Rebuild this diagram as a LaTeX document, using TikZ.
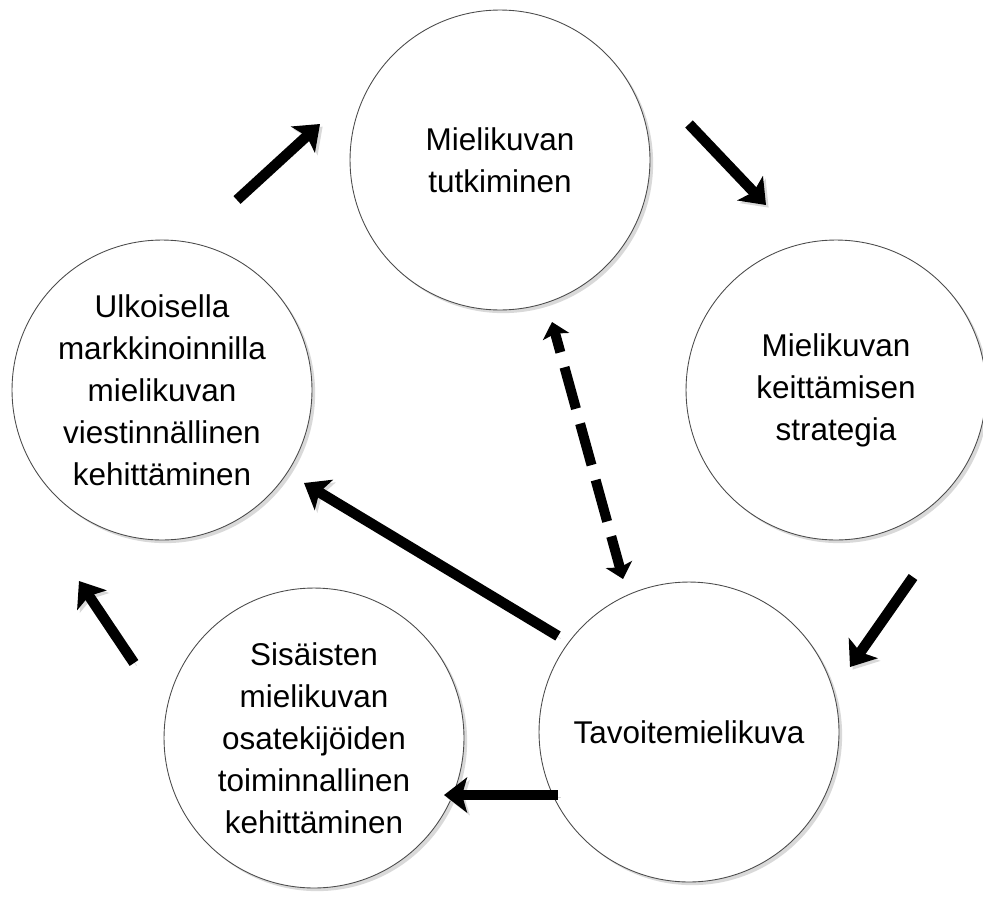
\documentclass[tikz,border=0pt]{standalone}
\usepackage{fontspec}
\setmainfont{Liberation Sans}
\usetikzlibrary{arrows.meta,shadows}

\begin{document}
\begin{tikzpicture}[
  x=0.02cm, y=-0.02cm,
  stage/.style={circle, draw=black!70, line width=0.5pt, minimum size=6cm, inner sep=0pt, align=center,
    fill=white,
    font=\fontsize{17.9pt}{23.9pt}\selectfont,
    drop shadow={shadow xshift=1.8pt, shadow yshift=-1.8pt, fill=black!15, opacity=1}},
  flow/.style={-{Stealth[length=0.46cm, width=0.7cm, inset=0.1cm]}, line width=0.21cm,
    preaction={draw=black!15, transform canvas={shift={(1.5pt,-1.5pt)}}}},
  feedback/.style={{Stealth[length=0.3cm, width=0.54cm, inset=0.06cm]}-{Stealth[length=0.3cm, width=0.54cm, inset=0.06cm]},
    line width=0.2cm, dash pattern=on 0.86cm off 0.31cm, dash phase=0.2cm}
]
  \useasboundingbox (0,0) rectangle (983,899);

  % the five stages
  \node[stage] (research) at (500,160) {Mielikuvan\\tutkiminen};
  \node[stage] (strategy) at (836,390) {Mielikuvan\\keittämisen\\strategia};
  \node[stage] (target) at (689,732) {Tavoitemielikuva};
  \node[stage] (internal) at (314,738) {Sisäisten\\mielikuvan\\osatekijöiden\\toiminnallinen\\kehittäminen};
  \node[stage] (external) at (162,390) {Ulkoisella\\markkinoinnilla\\mielikuvan\\viestinnällinen\\kehittäminen};

  % free arrow ends
  \coordinate (extOut) at (237,200);  \coordinate (resIn) at (320,124);
  \coordinate (resOut) at (689,124);  \coordinate (strIn) at (766,205);
  \coordinate (strOut) at (913,577);  \coordinate (tarIn) at (850,667);
  \coordinate (tarOut) at (558,795);  \coordinate (intIn) at (444,795);
  \coordinate (intOut) at (134,663);  \coordinate (extIn) at (79,581);
  \coordinate (tarBack) at (558,636); \coordinate (extBack) at (304,483);
  \coordinate (fbTop) at (552,322);   \coordinate (fbBottom) at (623,579);

  \draw[flow] (extOut) -- (resIn);
  \draw[flow] (resOut) -- (strIn);
  \draw[flow] (strOut) -- (tarIn);
  \draw[flow] (tarOut) -- (intIn);
  \draw[flow] (intOut) -- (extIn);
  \draw[flow] (tarBack) -- (extBack);
  \draw[feedback] (fbBottom) -- (fbTop);
\end{tikzpicture}
\end{document}
